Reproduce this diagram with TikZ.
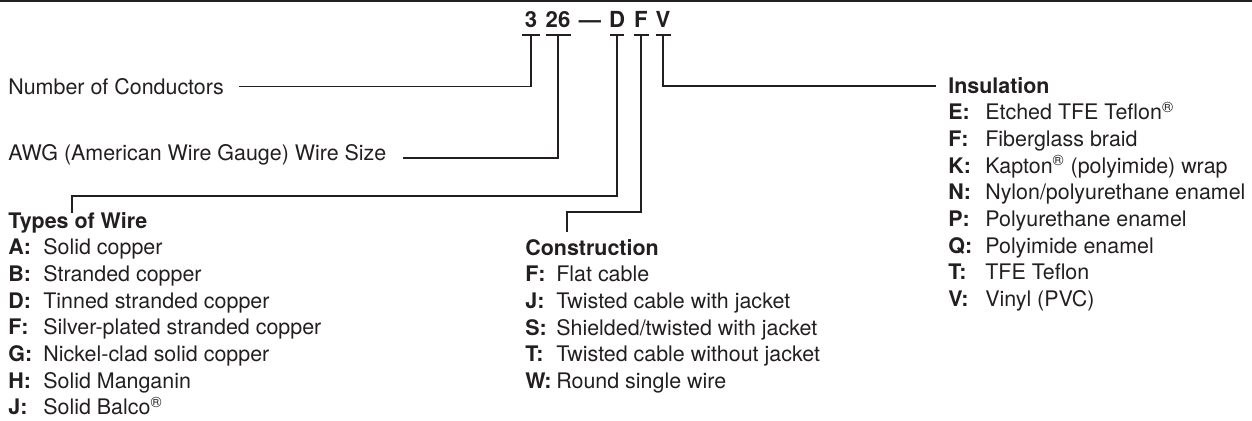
\documentclass[tikz,border=0pt]{standalone}
\usepackage{fontspec}
\setmainfont{TeX Gyre Heros}
\definecolor{ink}{RGB}{35,31,32}
\tikzset{
  wire/.style={draw=ink, line width=1.1pt},
  code/.style={font=\fontsize{12.6}{15.2}\selectfont\bfseries, text=ink, inner sep=0pt, anchor=base},
  lbl/.style={font=\fontsize{12.2}{15.2}\selectfont, text=ink, inner sep=0pt, anchor=base west},
}
\newcommand{\reg}{\textsuperscript{\textregistered}}
\begin{document}
\begin{tikzpicture}[x=0.02cm, y=-0.02cm]
  \useasboundingbox (0,0) rectangle (1252,420);
  % rule at the top
  \draw[wire] (0,1) -- (1252,1);

  % the part number
  \node[code] (c3)   at (531,27) {3};
  \node[code] (c26)  at (558,27) {26};
  \node[code] (cdash) at (590,27) {---};
  \node[code] (cD)   at (617,27) {D};
  \node[code] (cF)   at (641,27) {F};
  \node[code] (cV)   at (663,27) {V};

  % labels
  \node[lbl] (num) at (8,94) {Number of Conductors};
  \node[lbl] (awg) at (8,160) {AWG (American Wire Gauge) Wire Size};

  \node[lbl] (types) at (8,228) {\begin{tabular}[t]{@{}p{0.7cm}@{}l@{}}
    \multicolumn{2}{@{}l@{}}{\textbf{Types of Wire}}\\
    \textbf{A:} & Solid copper\\
    \textbf{B:} & Stranded copper\\
    \textbf{D:} & Tinned stranded copper\\
    \textbf{F:} & Silver-plated stranded copper\\
    \textbf{G:} & Nickel-clad solid copper\\
    \textbf{H:} & Solid Manganin\\
    \textbf{J:} & Solid Balco\reg
  \end{tabular}};

  \node[lbl] (constr) at (525,255) {\begin{tabular}[t]{@{}p{0.62cm}@{}l@{}}
    \multicolumn{2}{@{}l@{}}{\textbf{Construction}}\\
    \textbf{F:} & Flat cable\\
    \textbf{J:} & Twisted cable with jacket\\
    \textbf{S:} & Shielded/twisted with jacket\\
    \textbf{T:} & Twisted cable without jacket\\
    \textbf{W:} & Round single wire
  \end{tabular}};

  \node[lbl] (insul) at (948,93) {\begin{tabular}[t]{@{}p{0.74cm}@{}l@{}}
    \multicolumn{2}{@{}l@{}}{\textbf{Insulation}}\\
    \textbf{E:} & Etched TFE Teflon\reg\\
    \textbf{F:} & Fiberglass braid\\
    \textbf{K:} & Kapton\reg{} (polyimide) wrap\\
    \textbf{N:} & Nylon/polyurethane enamel\\
    \textbf{P:} & Polyurethane enamel\\
    \textbf{Q:} & Polyimide enamel\\
    \textbf{T:} & TFE Teflon\\
    \textbf{V:} & Vinyl (PVC)
  \end{tabular}};

  % brackets under the code
  \draw[wire] (c3 |- 0,35) ++(-9,0) -- ++(18,0);
  \draw[wire] (c26 |- 0,35) ++(-12.5,0) -- ++(25,0);
  \draw[wire] (cD |- 0,35) ++(-7,0) -- ++(14,0);
  \draw[wire] (cF |- 0,35) ++(-7.5,0) -- ++(15,0);
  \draw[wire] (cV |- 0,35) ++(-7.5,0) -- ++(15,0);

  % leaders
  \draw[wire] (c3 |- 0,35) |- ([shift={(15,-7.5)}]num.base east);
  \draw[wire] (c26 |- 0,35) |- ([shift={(16,-2)}]awg.base east);
  \draw[wire] (cD |- 0,35) |- (72,196) -- ([shift={(64,-15)}]types.base west);
  \draw[wire] (cF |- 0,35) |- (567,212) -- ([shift={(42,-23)}]constr.base west);
  \draw[wire] (cV |- 0,35) |- ([shift={(-12,-7)}]insul.base west);
\end{tikzpicture}
\end{document}
